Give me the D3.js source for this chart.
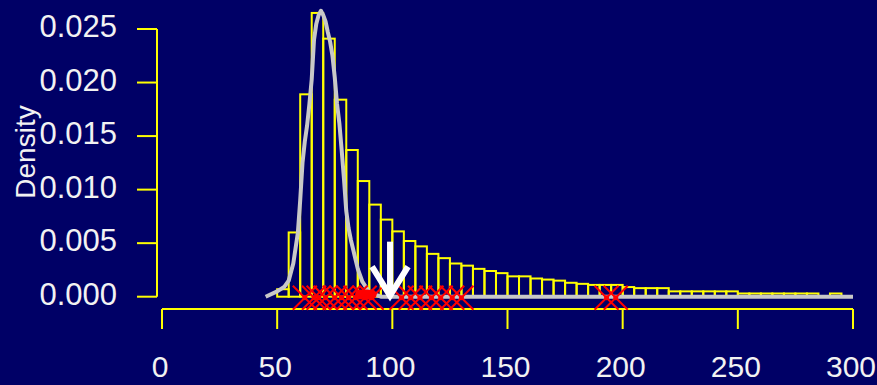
<!DOCTYPE html>
<html>
<head>
<meta charset="utf-8">
<script src="https://cdn.jsdelivr.net/npm/d3@7"></script>
<style>
  html, body { margin: 0; padding: 0; background: #000066; }
  svg { display: block; }
  text { font-family: "Liberation Sans", Arial, sans-serif; fill: #f2f2f2; }
</style>
</head>
<body>
<svg id="chart" width="877" height="385"></svg>
<script>
// Histogram bins (left edge, width 5) and their densities
const binStarts = [50, 55, 60, 65, 70, 75, 80, 85, 90, 95, 100, 105, 110, 115, 120, 125, 130, 135, 140, 145,
  150, 155, 160, 165, 170, 175, 180, 185, 190, 195, 200, 205, 210, 215, 220, 225, 230, 235, 240, 245,
  250, 255, 260, 265, 270, 275, 280, 285, 290, 295];
const binDensity = [0.0007, 0.0060, 0.0189, 0.0265, 0.0241, 0.0184, 0.0137, 0.0108, 0.0086, 0.0072,
  0.0061, 0.0052, 0.0047, 0.0040, 0.0036, 0.0031, 0.0029, 0.0026, 0.0024, 0.0022,
  0.0019, 0.0019, 0.0017, 0.0016, 0.0015, 0.0013, 0.0012, 0.0011, 0.0011, 0.0011,
  0.0009, 0.0008, 0.0008, 0.0008, 0.0005, 0.0005, 0.0005, 0.0005, 0.0005, 0.0005,
  0.0003, 0.0003, 0.0003, 0.0003, 0.0003, 0.0003, 0.0003, 0.0000, 0.0003, 0.0000];
const binWidth = 5;

// Density curve points (x, density)
const curveX = [45, 50, 53, 55, 57, 59, 60, 61, 62, 63, 64, 65, 66, 67, 68, 69, 70, 71, 72, 73, 74, 75,
  76, 77, 78, 79, 80, 81, 82, 83, 85, 87, 90, 95, 300];
const curveY = [0, 0.0005, 0.0009, 0.0015, 0.0031, 0.0060, 0.0090, 0.0125, 0.0145, 0.0160, 0.0180, 0.0203,
  0.0240, 0.0255, 0.0263, 0.0267, 0.0263, 0.0257, 0.0247, 0.0238, 0.0225, 0.0205,
  0.0180, 0.0162, 0.0137, 0.0110, 0.0080, 0.0064, 0.0053, 0.0044, 0.0026, 0.0014, 0.0004, 0, 0];

// Observed values marked with crosses along the baseline
const crossValues = [62, 66, 68, 71, 75, 78, 81, 84, 88, 91, 104, 108, 112, 117, 121, 126, 130, 193, 197];
// Highlighted observations (filled dots)
const dotValues = [86, 89, 91];
// Arrow marking the reference value
const arrowValue = 99;
const arrowTop = 0.00514;

const xTicks = [0, 50, 100, 150, 200, 250, 300];
const yTicks = [0.000, 0.005, 0.010, 0.015, 0.020, 0.025];

const svg = d3.select("#chart");
const x = d3.scaleLinear().domain([0, 300]).range([162, 853]);
const y = d3.scaleLinear().domain([0, 0.025]).range([296.7, 29]);

const yellow = "#ffff00";

// Histogram rectangles
svg.append("g").selectAll("rect")
  .data(binStarts.map((s, i) => ({ s, d: binDensity[i] })))
  .join("rect")
  .attr("x", d => x(d.s))
  .attr("width", d => x(d.s + binWidth) - x(d.s))
  .attr("y", d => y(d.d))
  .attr("height", d => y(0) - y(d.d))
  .attr("fill", "none")
  .attr("stroke", yellow)
  .attr("stroke-width", 2);

// Density curve
const line = d3.line().x(d => x(d[0])).y(d => y(d[1]));
svg.append("path")
  .datum(curveX.map((v, i) => [v, curveY[i]]))
  .attr("d", line)
  .attr("fill", "none")
  .attr("stroke", "#c8c8c8")
  .attr("stroke-width", 4)
  .attr("stroke-linejoin", "round");

// Y axis
const yAxis = svg.append("g");
yAxis.append("line")
  .attr("x1", 157).attr("x2", 157)
  .attr("y1", y(0)).attr("y2", y(0.025))
  .attr("stroke", yellow).attr("stroke-width", 2);
yAxis.selectAll("line.tick").data(yTicks).join("line")
  .attr("class", "tick")
  .attr("x1", 137).attr("x2", 157)
  .attr("y1", d => y(d)).attr("y2", d => y(d))
  .attr("stroke", yellow).attr("stroke-width", 2);
yAxis.selectAll("text").data(yTicks).join("text")
  .attr("x", 117)
  .attr("y", d => y(d) + 8)
  .attr("text-anchor", "end")
  .attr("font-size", 31)
  .text(d => d3.format(".3f")(d));

svg.append("text")
  .attr("transform", "translate(35,152) rotate(-90)")
  .attr("text-anchor", "middle")
  .attr("font-size", 28)
  .text("Density");

// X axis
const xAxis = svg.append("g");
xAxis.append("line")
  .attr("x1", x(0)).attr("x2", x(300))
  .attr("y1", 309).attr("y2", 309)
  .attr("stroke", yellow).attr("stroke-width", 2);
xAxis.selectAll("line.tick").data(xTicks).join("line")
  .attr("class", "tick")
  .attr("x1", d => x(d)).attr("x2", d => x(d))
  .attr("y1", 309).attr("y2", 329)
  .attr("stroke", yellow).attr("stroke-width", 2);
xAxis.selectAll("text").data(xTicks).join("text")
  .attr("x", d => x(d) - 2)
  .attr("y", 377)
  .attr("text-anchor", "middle")
  .attr("font-size", 30)
  .text(d => d);

// Crosses
const red = "#ff0000";
const cy = y(0) + 1;
const hs = 12;
const crosses = svg.append("g");
crosses.selectAll("path").data(crossValues).join("path")
  .attr("d", d => {
    const cx = x(d);
    return `M${cx - hs},${cy - hs}L${cx + hs},${cy + hs}M${cx - hs},${cy + hs}L${cx + hs},${cy - hs}`;
  })
  .attr("stroke", red)
  .attr("stroke-width", 2)
  .attr("fill", "none");
crosses.selectAll("circle").data(crossValues).join("circle")
  .attr("cx", d => x(d)).attr("cy", cy).attr("r", 2.5)
  .attr("fill", red);

svg.append("g").selectAll("circle").data(dotValues).join("circle")
  .attr("cx", d => x(d)).attr("cy", y(0.0002)).attr("r", 5)
  .attr("fill", red);

// Arrow
const ax = x(arrowValue), tipY = y(0) + 1;
const arrow = svg.append("g")
  .attr("stroke", "#ffffff").attr("stroke-width", 6).attr("fill", "none")
  .attr("stroke-linecap", "butt").attr("stroke-linejoin", "miter");
arrow.append("line").attr("x1", ax).attr("x2", ax).attr("y1", y(arrowTop)).attr("y2", tipY - 4);
arrow.append("path").attr("d", `M${ax - 18},${tipY - 31}L${ax},${tipY - 2}L${ax + 18},${tipY - 31}`);
</script>
</body>
</html>
